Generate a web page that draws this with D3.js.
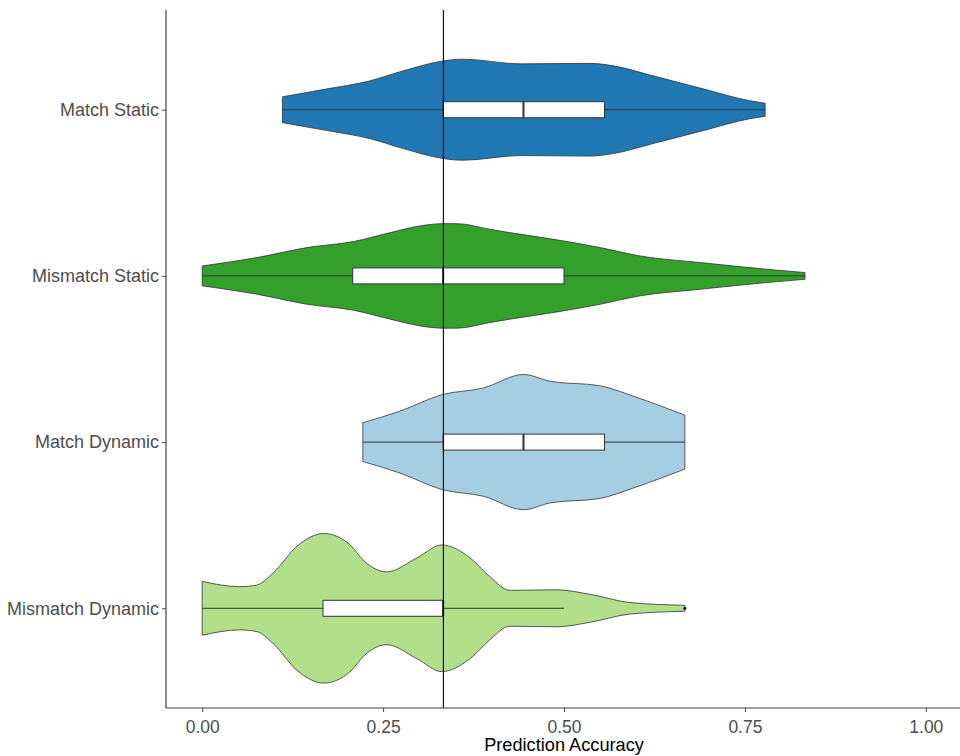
<!DOCTYPE html>
<html>
<head>
<meta charset="utf-8">
<script src="https://cdn.jsdelivr.net/npm/d3@7"></script>
<style>
  body { margin: 0; background: #fff; }
  svg { display: block; font-family: "Liberation Sans", Arial, sans-serif; }
</style>
</head>
<body>
<svg id="chart" width="960" height="756"></svg>
<script>
// categories, top to bottom
var categories = ['Match Static', 'Mismatch Static', 'Match Dynamic', 'Mismatch Dynamic'];
var fills = ['#1F78B4', '#33A02C', '#A6CEE3', '#B2DF8A'];

// violin outlines: [accuracy, relative density]
var matchStaticDensity = [
    [0.111, 0.173], [0.171, 0.276], [0.232, 0.387], [0.278, 0.52], [0.333, 0.653],
    [0.36, 0.676], [0.44, 0.613], [0.536, 0.62], [0.568, 0.587], [0.623, 0.453],
    [0.692, 0.28], [0.757, 0.12], [0.778, 0.087]
];
var mismatchStaticDensity = [
    [0.0, 0.133], [0.0755, 0.245], [0.145, 0.379], [0.209, 0.459], [0.26, 0.579],
    [0.306, 0.676], [0.333, 0.699], [0.352, 0.699], [0.398, 0.623], [0.425, 0.579],
    [0.494, 0.476], [0.55, 0.379], [0.605, 0.267], [0.688, 0.179], [0.78, 0.089],
    [0.833, 0.045]
];
var matchDynamicDensity = [
    [0.222, 0.26], [0.273, 0.413], [0.331, 0.633], [0.389, 0.725], [0.444, 0.904],
    [0.481, 0.813], [0.55, 0.753], [0.596, 0.613], [0.667, 0.36]
];
var mismatchDynamicDensity = [
    [0.0, 0.36], [0.052, 0.289], [0.075, 0.31], [0.0985, 0.476], [0.131, 0.831],
    [0.168, 1.0], [0.204, 0.853], [0.224, 0.63], [0.255, 0.487], [0.297, 0.676],
    [0.331, 0.847], [0.37, 0.676], [0.397, 0.427], [0.425, 0.24], [0.49, 0.247],
    [0.536, 0.187], [0.591, 0.077], [0.667, 0.04]
];
var densities = [matchStaticDensity, mismatchStaticDensity, matchDynamicDensity, mismatchDynamicDensity];

// box plot summaries
var whiskerLow = [0.111, 0.0, 0.222, 0.0];
var quartile1 = [0.333, 0.208, 0.333, 0.167];
var medians = [0.444, 0.333, 0.444, 0.333];
var quartile3 = [0.556, 0.5, 0.556, 0.333];
var whiskerHigh = [0.778, 0.833, 0.667, 0.5];
var outliers = [[3, 0.667]];

var chanceLevel = 1 / 3;
var xTicks = [0, 0.25, 0.5, 0.75, 1];

var svg = d3.select('#chart');
var panelLeft = 166, panelRight = 962, panelTop = 10, panelBottom = 708;

var x = d3.scaleLinear().domain([-0.05, 1.05]).range([panelLeft, panelRight]);
var y = d3.scalePoint().domain(categories).range([panelTop, panelBottom]).padding(0.6);
var w = d3.scaleLinear().domain([0, 1]).range([0, y.step() * 0.45]);
var boxHalf = 8;

var g = svg.append('g');

categories.forEach(function (cat, i) {
    var yc = y(cat);
    var area = d3.area()
        .x(function (d) { return x(d[0]); })
        .y0(function (d) { return yc + w(d[1]); })
        .y1(function (d) { return yc - w(d[1]); })
        .curve(d3.curveMonotoneX);
    g.append('path')
        .attr('d', area(densities[i]))
        .attr('fill', fills[i])
        .attr('stroke', '#333')
        .attr('stroke-width', 0.8);
    // whiskers
    g.append('line')
        .attr('x1', x(whiskerLow[i])).attr('x2', x(quartile1[i]))
        .attr('y1', yc).attr('y2', yc)
        .attr('stroke', '#333').attr('stroke-width', 1);
    g.append('line')
        .attr('x1', x(quartile3[i])).attr('x2', x(whiskerHigh[i]))
        .attr('y1', yc).attr('y2', yc)
        .attr('stroke', '#333').attr('stroke-width', 1);
    g.append('rect')
        .attr('x', x(quartile1[i]))
        .attr('y', yc - boxHalf)
        .attr('width', x(quartile3[i]) - x(quartile1[i]))
        .attr('height', boxHalf * 2)
        .attr('fill', '#fff')
        .attr('stroke', '#333')
        .attr('stroke-width', 1);
    g.append('line')
        .attr('x1', x(medians[i])).attr('x2', x(medians[i]))
        .attr('y1', yc - boxHalf).attr('y2', yc + boxHalf)
        .attr('stroke', '#333').attr('stroke-width', 2);
});

outliers.forEach(function (o) {
    g.append('circle')
        .attr('cx', x(o[1]))
        .attr('cy', y(categories[o[0]]))
        .attr('r', 1.6)
        .attr('fill', '#222');
});

// chance line
g.append('line')
    .attr('x1', x(chanceLevel)).attr('x2', x(chanceLevel))
    .attr('y1', panelTop).attr('y2', panelBottom)
    .attr('stroke', '#000').attr('stroke-width', 1.1);

// axes
var xAxis = svg.append('g')
    .attr('transform', 'translate(0,' + panelBottom + ')')
    .call(d3.axisBottom(x).tickValues(xTicks).tickFormat(d3.format('.2f')).tickSizeOuter(0).tickSize(4));
var yAxis = svg.append('g')
    .attr('transform', 'translate(' + panelLeft + ',0)')
    .call(d3.axisLeft(y).tickSizeOuter(0).tickSize(4));

[xAxis, yAxis].forEach(function (a) {
    a.select('.domain').attr('stroke', '#444').attr('stroke-width', 1.2);
    a.selectAll('.tick line').attr('stroke', '#444');
    a.selectAll('.tick text')
        .attr('fill', '#4D4D4D')
        .style('font-family', '"Liberation Sans", Arial, sans-serif');
});
xAxis.select('.domain').attr('d', 'M' + panelLeft + ',0H' + panelRight);
yAxis.select('.domain').attr('d', 'M0,' + panelTop + 'V' + panelBottom);
xAxis.selectAll('.tick text').style('font-size', '17.5px').attr('dy', '1.0em');
yAxis.selectAll('.tick text').style('font-size', '18px').attr('x', -7);

svg.append('text')
    .attr('x', (panelLeft + panelRight) / 2)
    .attr('y', 751)
    .attr('text-anchor', 'middle')
    .style('font-size', '18.2px')
    .attr('fill', '#000')
    .text('Prediction Accuracy');
</script>
</body>
</html>
